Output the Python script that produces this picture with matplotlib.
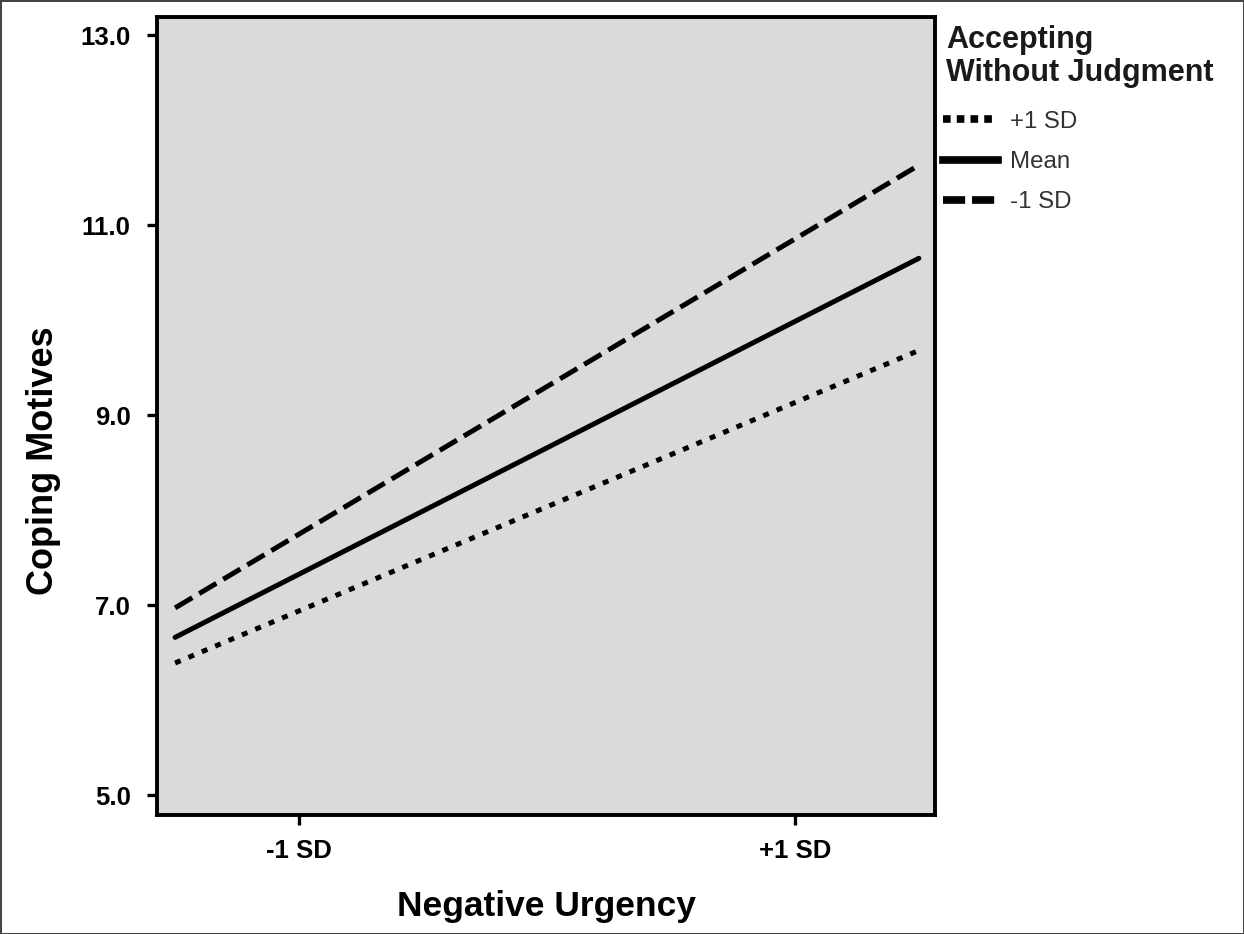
import matplotlib
matplotlib.use("Agg")
import matplotlib.pyplot as plt
from matplotlib.lines import Line2D

plt.rcParams['font.family'] = ['Liberation Sans', 'DejaVu Sans']

# Data
x_sd = [-1.5, 1.5]                # Negative Urgency (SD units)
plus1sd = [6.39, 9.68]            # Accepting w/o judgment +1 SD
mean_ = [6.66, 10.65]             # Mean
minus1sd = [6.97, 11.63]          # -1 SD
series_labels = ['+1 SD', 'Mean', '-1 SD']
legend_title = 'Accepting\nWithout Judgment'
xtick_pos = [-1, 1]
xtick_labels = ['-1 SD', '+1 SD']
ytick_pos = [5.0, 7.0, 9.0, 11.0, 13.0]

W, H = 1244, 934
fig = plt.figure(figsize=(W / 100, H / 100), dpi=100, edgecolor='#444444', linewidth=2)
ax = fig.add_axes([0.1262, 0.1274, 0.6254, 0.8544])
ax.set_facecolor('#dadada')

lw = 3.6
dot_style = (0, (1.2, 1.7))
dash_style = (0, (4.0, 1.6))
ax.plot(x_sd, plus1sd, color='black', lw=lw, linestyle=dot_style, dash_capstyle='butt')
ax.plot(x_sd, mean_, color='black', lw=lw, linestyle='-', solid_capstyle='round')
ax.plot(x_sd, minus1sd, color='black', lw=lw, linestyle=dash_style, dash_capstyle='butt')

ax.set_xlim(-1.573, 1.565)
ax.set_ylim(4.79, 13.19)
ax.set_xticks(xtick_pos)
ax.set_xticklabels(xtick_labels)
ax.set_yticks(ytick_pos)
ax.set_yticklabels([f'{v:.1f}' for v in ytick_pos])

for s in ax.spines.values():
    s.set_linewidth(2.8)
    s.set_color('black')
ax.tick_params(axis='both', direction='out', length=7, width=2.4, color='black',
               labelsize=18.5)
ax.tick_params(axis='y', pad=12)
ax.tick_params(axis='x', pad=10)
for t in ax.get_xticklabels() + ax.get_yticklabels():
    t.set_fontweight('bold')

ax.set_xlabel('Negative Urgency', fontsize=25.5, fontweight='bold', labelpad=20)
ax.set_ylabel('Coping Motives', fontsize=26, fontweight='bold')
ax.yaxis.set_label_coords(-0.124, 0.444)

# Legend title
fig.text(946 / W, 1 - 25 / H, legend_title, ha='left', va='top', fontsize=22,
         fontweight='bold', color='#1a1a1a', linespacing=1.12)

# Legend handles (thicker, as in reference)
hlw = 5.5
handles = [
    Line2D([], [], color='black', lw=hlw, linestyle=(0, (1.0, 0.8)), dash_capstyle='butt'),
    Line2D([], [], color='black', lw=hlw, linestyle='-'),
    Line2D([], [], color='black', lw=hlw, linestyle=(0, (2.9, 0.9)), dash_capstyle='butt'),
]
leg = fig.legend(handles, series_labels, loc='center left',
                 bbox_to_anchor=(943 / W, 1 - 162 / H), bbox_transform=fig.transFigure,
                 frameon=False, fontsize=17.3, handlelength=2.3, handletextpad=0.5,
                 labelspacing=0.76, borderaxespad=0.0, borderpad=0.0)
for t in leg.get_texts():
    t.set_color('#333333')

fig.savefig('out.png', dpi=100, edgecolor=fig.get_edgecolor())
